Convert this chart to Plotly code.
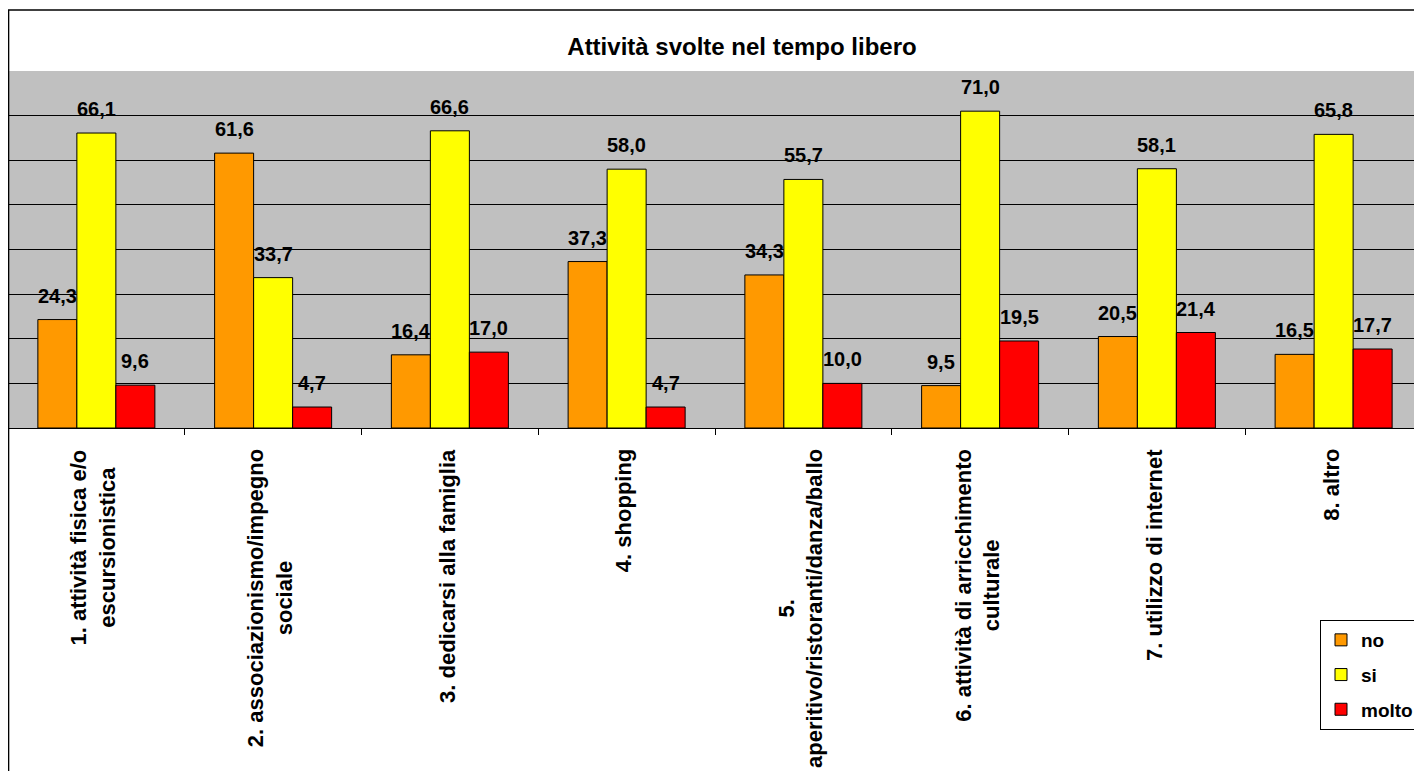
import plotly.graph_objects as go

categories = [
    "1. attività fisica e/o<br>escursionistica",
    "2. associazionismo/impegno<br>sociale",
    "3. dedicarsi alla famiglia",
    "4. shopping",
    "5.<br>aperitivo/ristoranti/danza/ballo",
    "6. attività di arricchimento<br>culturale",
    "7. utilizzo di internet",
    "8. altro",
]
series_names = ["no", "si", "molto"]
no_vals = [24.3, 61.6, 16.4, 37.3, 34.3, 9.5, 20.5, 16.5]
si_vals = [66.1, 33.7, 66.6, 58.0, 55.7, 71.0, 58.1, 65.8]
molto_vals = [9.6, 4.7, 17.0, 4.7, 10.0, 19.5, 21.4, 17.7]
colors = ["#FF9900", "#FFFF00", "#FF0000"]
title_text = "Attività svolte nel tempo libero"

FONT = "Arial, Liberation Sans, sans-serif"
BARGAP = 0.338
# page body has an 8px margin, so the figure fills the rest of the 1422x771 window
W, H = 1414, 763
ML, MR, MT, MB = 0, 0, 63, 343
plot_w = W - ML - MR
plot_h = H - MT - MB

all_series = [no_vals, si_vals, molto_vals]

fig = go.Figure()
for name, vals, col in zip(series_names, all_series, colors):
    fig.add_trace(go.Bar(
        x=categories, y=vals, name="<b>" + name + "</b>", legendgroup=name,
        marker=dict(color=col, line=dict(color="black", width=1)),
    ))

# value labels above bars
bw = (1 - BARGAP) / len(all_series)
annotations = []
for k, vals in enumerate(all_series):
    off = (k - (len(all_series) - 1) / 2) * bw
    for i, v in enumerate(vals):
        annotations.append(dict(
            x=i + off, y=v, xref="x", yref="y",
            text="<b>" + f"{v:.1f}".replace(".", ",") + "</b>",
            showarrow=False, yanchor="bottom", xanchor="center", yshift=11,
            font=dict(family=FONT, size=20, color="black"),
        ))

# rotated category labels
for c in categories:
    annotations.append(dict(
        x=c, y=-19 / plot_h, xref="x", yref="paper",
        text="<b>" + c + "</b>", textangle=-90, showarrow=False,
        xanchor="center", yanchor="top", align="center", xshift=-3,
        font=dict(family=FONT, size=22, color="black"),
    ))

top_border = (plot_h + MT - 2) / plot_h
shapes = [
    dict(type="line", xref="paper", yref="paper", x0=0, x1=1.01,
         y0=top_border, y1=top_border, line=dict(color="black", width=1.5)),
    dict(type="line", xref="paper", yref="paper", x0=0.0004, x1=0.0004,
         y0=-(MB + 5) / plot_h, y1=top_border, line=dict(color="black", width=1.5)),
]

fig.update_layout(
    width=W, height=H,
    margin=dict(l=ML, r=MR, t=MT, b=MB, autoexpand=False),
    paper_bgcolor="white", plot_bgcolor="#C0C0C0",
    barmode="group", bargap=BARGAP, bargroupgap=0,
    title=dict(text="<b>" + title_text + "</b>", x=734 / W, xref="container",
               y=1 - 39 / H, yref="container", xanchor="center", yanchor="middle",
               font=dict(family=FONT, size=24, color="black")),
    font=dict(family=FONT, color="black"),
    xaxis=dict(type="category", showticklabels=False, ticks="outside", tickson="boundaries",
               ticklen=6, tickcolor="black", showline=True, linecolor="black", linewidth=1,
               showgrid=False, fixedrange=True),
    yaxis=dict(range=[0, 80], dtick=10, showgrid=True, gridcolor="black", gridwidth=1,
               showticklabels=False, showline=True, linecolor="black", linewidth=1,
               zeroline=False, ticks="", fixedrange=True),
    legend=dict(x=(1312 - ML) / plot_w, xanchor="left",
                y=(plot_h + MT - 612) / plot_h, yanchor="top",
                bordercolor="black", borderwidth=1, bgcolor="white",
                font=dict(family=FONT, size=19, color="black"),
                tracegroupgap=7, traceorder="grouped"),
    annotations=annotations,
    shapes=shapes,
    showlegend=True,
)

fig.write_html("out.html")
